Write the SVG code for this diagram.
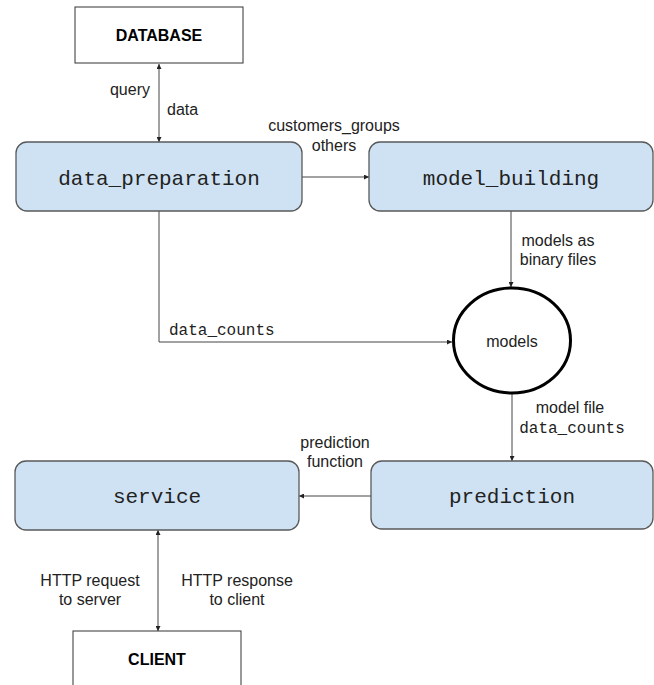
<svg xmlns="http://www.w3.org/2000/svg" width="654" height="685" viewBox="0 0 654 685">
<style>
.box{fill:#cfe2f3;stroke:#595959;stroke-width:1.3}
.plain{fill:#ffffff;stroke:#333333;stroke-width:1}
.mono{font-family:"Liberation Mono","DejaVu Sans Mono",monospace;fill:#222;text-anchor:middle}
.big{font-size:21px}
.small{font-size:16px}
.sans{font-family:"Liberation Sans",Arial,sans-serif;font-size:16px;fill:#222;text-anchor:middle}
.bold{font-weight:bold;fill:#000}
.edge{fill:none;stroke:#444;stroke-width:1}
</style>
<defs>
<marker id="ah" viewBox="0 0 10 10" refX="10" refY="5" markerWidth="6" markerHeight="5" markerUnits="userSpaceOnUse" orient="auto-start-reverse">
<path d="M0,0 L10,5 L0,10 z" fill="#222"/>
</marker>
</defs>
<rect width="654" height="685" fill="#ffffff"/>

<g id="connectors">
<line class="edge" x1="159" y1="64" x2="159" y2="142" marker-start="url(#ah)" marker-end="url(#ah)"/>
<line class="edge" x1="302" y1="177" x2="369" y2="177" marker-end="url(#ah)"/>
<line class="edge" x1="511" y1="211" x2="511" y2="287" marker-end="url(#ah)"/>
<polyline class="edge" points="159,211 159,342 452,342" marker-end="url(#ah)"/>
<line class="edge" x1="512" y1="394" x2="512" y2="461" marker-end="url(#ah)"/>
<line class="edge" x1="371" y1="496" x2="299" y2="496" marker-end="url(#ah)"/>
<line class="edge" x1="158" y1="530" x2="158" y2="631" marker-start="url(#ah)" marker-end="url(#ah)"/>
<text class="sans" x="150" y="95" text-anchor="end" style="text-anchor:end">query</text>
<text class="sans" x="167" y="115" style="text-anchor:start">data</text>
<text class="sans" x="334" y="131">customers_groups</text>
<text class="sans" x="334" y="151">others</text>
<text class="sans" x="558" y="246">models as</text>
<text class="sans" x="558" y="265">binary files</text>
<text class="mono small" x="169" y="335" style="text-anchor:start">data_counts</text>
<text class="sans" x="570" y="413">model file</text>
<text class="mono small" x="572" y="433">data_counts</text>
<text class="sans" x="335" y="448">prediction</text>
<text class="sans" x="335" y="467">function</text>
<text class="sans" x="90" y="586">HTTP request</text>
<text class="sans" x="90" y="605">to server</text>
<text class="sans" x="237" y="586">HTTP response</text>
<text class="sans" x="237" y="605">to client</text>
</g>

<g id="database">
<rect class="plain" x="75" y="7" width="168" height="56"/>
<text class="sans bold" x="159" y="41">DATABASE</text>
</g>

<g id="data_preparation">
<rect class="box" x="16" y="142" width="286" height="69" rx="11"/>
<text class="mono big" x="159" y="185">data_preparation</text>
</g>

<g id="model_building">
<rect class="box" x="369" y="142" width="284" height="69" rx="11"/>
<text class="mono big" x="511" y="185">model_building</text>
</g>

<g id="models">
<ellipse cx="512" cy="340.5" rx="58.5" ry="52.5" fill="#ffffff" stroke="#000" stroke-width="3"/>
<text class="sans" x="512" y="347">models</text>
</g>

<g id="prediction">
<rect class="box" x="371" y="461" width="282" height="68" rx="11"/>
<text class="mono big" x="512" y="503">prediction</text>
</g>

<g id="service">
<rect class="box" x="15" y="461" width="284" height="69" rx="11"/>
<text class="mono big" x="157" y="503">service</text>
</g>

<g id="client">
<rect class="plain" x="73" y="631" width="168" height="60"/>
<text class="sans bold" x="157" y="665">CLIENT</text>
</g>
</svg>
